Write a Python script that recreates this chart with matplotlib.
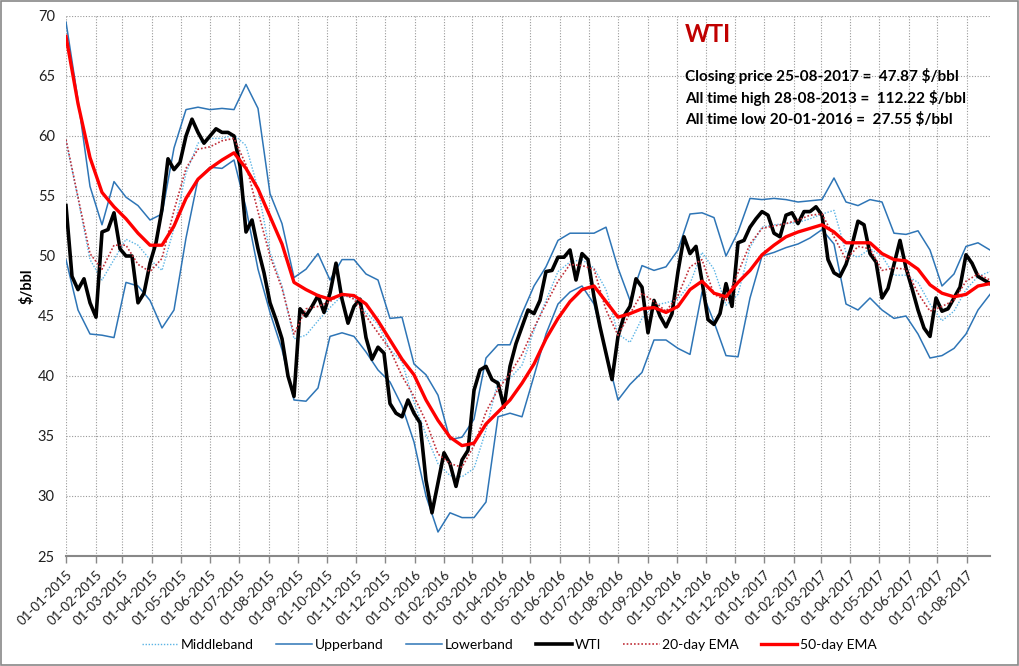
import numpy as np
import pandas as pd
import matplotlib
matplotlib.use('Agg')
import matplotlib.pyplot as plt
import matplotlib.dates as mdates
from matplotlib.patches import Rectangle

plt.rcParams['font.family'] = ['Lato', 'DejaVu Sans']

#WTI closing price at even steps 2015-01-01 .. 2017-08-25
wti = [54.2, 48.3, 47.2, 48.1, 46.1, 44.9, 52.0, 52.2, 53.6, 50.6,
       50.0, 50.0, 46.1, 46.9, 49.4, 51.1, 53.9, 58.1, 57.2, 57.8,
       60.0, 61.4, 60.3, 59.4, 60.0, 60.6, 60.3, 60.3, 60.0, 57.5,
       52.0, 53.0, 50.6, 48.6, 46.1, 44.7, 43.1, 40.0, 38.3, 45.6,
       45.0, 45.8, 46.7, 45.3, 46.9, 49.4, 46.4, 44.4, 45.8, 46.4,
       43.2, 41.4, 42.4, 41.9, 37.7, 36.9, 36.6, 38.0, 36.9, 36.1,
       31.3, 28.6, 31.1, 33.6, 32.7, 30.8, 33.0, 33.8, 38.8, 40.5,
       40.8, 39.7, 39.4, 37.4, 40.8, 42.7, 44.1, 45.5, 45.2, 46.3,
       48.7, 48.8, 49.9, 49.9, 50.5, 48.0, 50.2, 49.7, 46.6, 44.1,
       41.9, 39.7, 43.3, 45.0, 45.8, 48.1, 47.4, 43.6, 46.3, 45.0,
       44.1, 45.2, 48.7, 51.6, 50.2, 50.8, 47.9, 44.7, 44.3, 45.2,
       47.7, 45.8, 51.1, 51.3, 52.4, 53.1, 53.7, 53.4, 51.9, 51.6,
       53.4, 53.6, 52.7, 53.7, 53.7, 54.1, 53.4, 49.7, 48.6, 48.3,
       49.3, 50.9, 52.9, 52.6, 50.2, 49.5, 46.5, 47.3, 49.3, 51.3,
       49.0, 47.3, 45.5, 44.0, 43.3, 46.5, 45.4, 45.6, 46.5, 47.4,
       50.1, 49.4, 48.3, 48.0, 47.7]

#Bollinger bands and EMAs, read at coarser even steps over the same span
upper = [69.5, 63.0, 55.8, 52.6, 56.2, 54.9, 54.2, 53.0, 53.5, 59.0,
         62.2, 62.4, 62.2, 62.3, 62.2, 64.3, 62.3, 55.2, 52.7, 48.2,
         48.9, 50.2, 48.0, 49.7, 49.7, 48.5, 48.0, 44.8, 44.9, 41.0,
         40.1, 38.4, 34.7, 34.9, 36.4, 41.5, 42.6, 42.6, 45.2, 47.5,
         49.1, 51.3, 51.9, 51.9, 51.9, 52.4, 49.0, 46.3, 49.2, 48.8,
         49.1, 50.5, 53.5, 53.6, 53.2, 50.0, 52.0, 54.8, 54.7, 54.8,
         54.7, 54.5, 54.6, 54.7, 56.5, 54.5, 54.2, 54.7, 54.5, 51.9,
         51.8, 52.1, 50.5, 47.5, 48.5, 50.8, 51.1, 50.5]
lower = [49.7, 45.5, 43.5, 43.4, 43.2, 47.8, 47.5, 46.3, 44.0, 45.5,
         51.5, 56.4, 57.4, 57.3, 58.0, 54.0, 48.9, 45.3, 42.2, 38.0,
         37.9, 39.0, 43.3, 43.6, 43.3, 42.0, 40.5, 39.5, 37.5, 34.5,
         30.0, 27.0, 28.6, 28.2, 28.2, 29.5, 36.6, 36.9, 36.6, 40.0,
         43.5, 46.0, 47.0, 47.5, 46.0, 42.0, 38.0, 39.3, 40.3, 43.0,
         43.0, 42.3, 41.8, 47.0, 44.5, 41.7, 41.6, 46.5, 50.0, 50.3,
         50.7, 51.0, 51.5, 52.2, 51.0, 46.0, 45.5, 46.5, 45.5, 44.8,
         45.0, 43.5, 41.5, 41.7, 42.3, 43.5, 45.5, 46.8]
middle = [59.6, 54.8, 49.7, 48.0, 49.7, 51.4, 50.9, 49.7, 48.8, 52.3,
          56.9, 59.4, 59.8, 59.8, 60.1, 59.2, 55.6, 50.3, 47.5, 43.1,
          43.4, 44.6, 45.7, 46.7, 46.5, 45.3, 44.3, 42.2, 41.2, 37.8,
          35.1, 32.7, 31.7, 31.6, 32.3, 35.5, 39.6, 39.8, 40.9, 43.8,
          46.3, 48.7, 49.5, 49.7, 49.0, 47.2, 43.5, 42.8, 44.8, 45.9,
          46.1, 46.4, 47.7, 50.3, 48.9, 45.9, 46.8, 50.7, 52.4, 52.6,
          52.7, 52.8, 53.1, 53.5, 53.8, 50.3, 49.9, 50.6, 50.0, 48.4,
          48.4, 47.8, 46.0, 44.6, 45.4, 47.2, 48.3, 48.7]
ema20 = [59.7, 54.9, 50.2, 48.9, 50.9, 50.9, 49.3, 48.7, 49.8, 53.8,
         57.3, 58.9, 59.1, 59.6, 59.8, 57.6, 53.7, 50.0, 47.3, 43.5,
         45.6, 45.8, 46.2, 46.9, 46.4, 45.0, 43.6, 42.2, 40.0, 38.3,
         36.2, 33.5, 32.7, 32.4, 34.2, 37.0, 38.9, 40.2, 41.8, 44.0,
         46.0, 47.9, 49.3, 49.2, 48.9, 45.5, 43.4, 45.2, 46.9, 46.2,
         45.4, 46.7, 49.1, 49.7, 46.8, 46.3, 48.6, 51.0, 52.3, 52.5,
         52.7, 53.0, 53.4, 53.5, 51.6, 49.7, 50.8, 50.6, 48.8, 49.0,
         48.9, 46.9, 45.4, 45.8, 46.3, 47.9, 48.5, 48.0]
ema50 = [68.3, 62.7, 58.2, 55.3, 54.1, 53.1, 51.9, 50.9, 50.9, 52.5,
         54.8, 56.4, 57.3, 58.0, 58.6, 57.3, 55.6, 53.3, 51.0, 47.8,
         47.2, 46.7, 46.4, 46.8, 46.7, 46.0, 44.6, 43.0, 41.4, 40.1,
         38.0, 36.3, 34.9, 34.2, 34.4, 36.0, 37.0, 38.0, 39.4, 41.0,
         43.1, 44.8, 46.2, 47.2, 47.5, 46.2, 44.9, 45.2, 45.6, 45.7,
         45.3, 45.8, 47.2, 47.9, 46.9, 46.6, 47.8, 48.8, 50.1, 50.9,
         51.6, 52.0, 52.3, 52.6, 52.0, 51.1, 51.1, 51.1, 50.2, 49.7,
         49.6, 48.9, 47.6, 46.9, 46.6, 46.8, 47.5, 47.7]

start, end = '2015-01-01', '2017-08-25'
wti_dates = pd.date_range(start, end, periods=len(wti))
ind_dates = pd.date_range(start, end, periods=len(upper))
month_ticks = pd.date_range(start, '2017-08-01', freq='MS')

info = ['Closing price 25-08-2017 =  47.87 \\$/bbl',
        'All time high 28-08-2013 =  112.22 \\$/bbl',
        'All time low 20-01-2016 =  27.55 \\$/bbl']

fig = plt.figure(figsize=(10.19, 6.66), dpi=100)
ax = fig.add_axes([66/1019, 110/666, 924/1019, 540/666])

#Series, drawn in legend order
ax.plot(ind_dates, middle, color='#5bb4e5', lw=1.0, ls=(0, (1, 1.2)), label='Middleband')
ax.plot(ind_dates, upper, color='#2e75b6', lw=1.1, label='Upperband')
ax.plot(ind_dates, lower, color='#2e75b6', lw=1.1, label='Lowerband')
ax.plot(wti_dates, wti, color='black', lw=2.6, label='WTI')
ax.plot(ind_dates, ema20, color='#c0303a', lw=1.2, ls=(0, (1, 1.2)), label='20-day EMA')
ax.plot(ind_dates, ema50, color='#ff0000', lw=2.4, label='50-day EMA')

#Axes formatting
ax.set_xlim(pd.Timestamp(start), pd.Timestamp(end))
ax.set_ylim(25, 70)
ax.set_yticks(np.arange(25, 71, 5))
ax.set_xticks(month_ticks)
ax.xaxis.set_major_formatter(mdates.DateFormatter('%d-%m-%Y'))
plt.setp(ax.get_xticklabels(), rotation=45, ha='right', rotation_mode='anchor')
ax.tick_params(axis='x', length=5, width=1, color='#888888', labelsize=9.5, pad=4, labelcolor='#202020')
ax.tick_params(axis='y', length=0, labelsize=10.5, pad=8, labelcolor='#202020')
ax.grid(True, color='#9a9a9a', lw=0.8, ls=(0, (1, 1.5)))
for s in ['top', 'right', 'left']:
    ax.spines[s].set_visible(False)
ax.spines['bottom'].set_color('#888888')
ax.spines['bottom'].set_linewidth(1.5)
ax.set_ylabel('\\$/bbl', fontsize=10.5, fontweight='bold', labelpad=2)

#Annotation block
fig.text(0.672, 0.948, 'WTI', color='#c00000', fontsize=17, fontweight='bold', va='center')
for i, line in enumerate(info):
    fig.text(0.672, 0.886 - i * 0.033, line, fontsize=11, fontweight='bold', va='center')

#Legend
fig.legend(loc='center', bbox_to_anchor=(0.5, 0.031), ncol=6, frameon=False,
           fontsize=10, handlelength=2.6, columnspacing=1.6, handletextpad=0.2)

#Chart border
fig.patches.append(Rectangle((0.001, 0.0015), 0.998, 0.997, transform=fig.transFigure,
                             fill=False, edgecolor='#888888', lw=1.2))

fig.savefig('out.png', dpi=100)
